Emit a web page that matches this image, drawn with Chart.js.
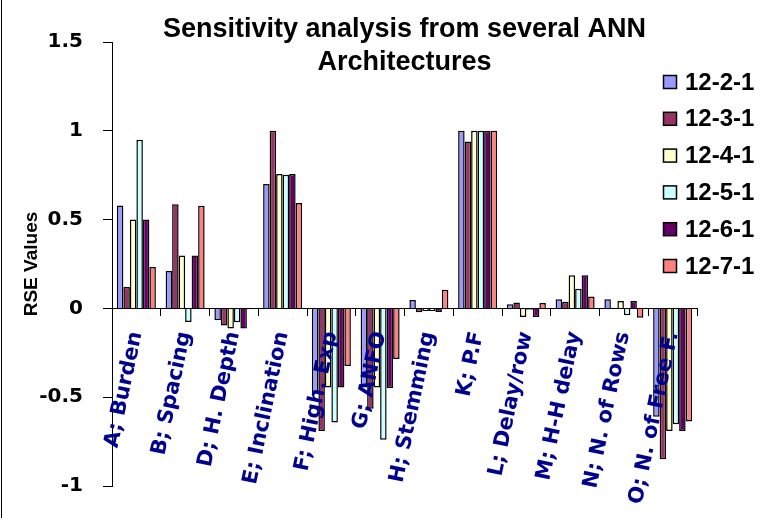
<!DOCTYPE html>
<html>
<head>
<meta charset="utf-8">
<script src="https://cdn.jsdelivr.net/npm/chart.js@4"></script>
<style>
  html, body { margin: 0; padding: 0; background: #fff; }
  #wrap { width: 770px; height: 518px; }
</style>
</head>
<body>
<div id="wrap"><canvas id="chart" width="770" height="518"></canvas></div>
<script>
const categories = ['A; Burden', 'B; Spacing', 'D; H. Depth', 'E; Inclination', 'F; High. Exp',
  'G; ANFO', 'H; Stemming', 'K; P.F', 'L; Delay/row', 'M; H-H delay', 'N; N. of Rows', 'O; N. of Free F.']
const seriesNames = ['12-2-1', '12-3-1', '12-4-1', '12-5-1', '12-6-1', '12-7-1']
const seriesColors = ['#9999FF', '#993366', '#FFFFCC', '#CCFFFF', '#660066', '#FF8080']

const arch1221 = [0.58, 0.21, -0.067, 0.70, -0.476, -0.446, 0.048, 1.0, 0.024, 0.052, 0.052, -0.61]
const arch1231 = [0.12, 0.587, -0.096, 1.0, -0.69, -0.565, -0.022, 0.94, 0.033, 0.037, 0.003, -0.85]
const arch1241 = [0.50, 0.298, -0.113, 0.757, -0.446, -0.446, -0.015, 1.0, -0.048, 0.187, 0.041, -0.69]
const arch1251 = [0.95, -0.076, -0.078, 0.752, -0.643, -0.739, -0.015, 1.0, -0.008, 0.111, -0.039, -0.652]
const arch1261 = [0.50, 0.298, -0.113, 0.757, -0.446, -0.448, -0.02, 1.0, -0.048, 0.187, 0.041, -0.69]
const arch1271 = [0.233, 0.578, -0.005, 0.593, -0.324, -0.285, 0.105, 1.0, 0.03, 0.067, -0.052, -0.637]

const yTicks = [-1, -0.5, 0, 0.5, 1, 1.5]
const titleLines = ['Sensitivity analysis from several ANN', 'Architectures']

const seriesValues = [arch1221, arch1231, arch1241, arch1251, arch1261, arch1271]

// title and legend sit on top of the plot, as in the original
const overlay = {
  id: 'overlay',
  afterDraw(chart) {
    const ctx = chart.ctx
    const area = chart.chartArea
    ctx.save()
    ctx.fillStyle = '#000'
    ctx.textAlign = 'center'
    ctx.textBaseline = 'alphabetic'
    ctx.font = 'bold 27px "Liberation Sans", Arial, sans-serif'
    const cx = (area.left + area.right) / 2
    ctx.fillText(titleLines[0], cx, 37)
    ctx.fillText(titleLines[1], cx, 70)

    ctx.textAlign = 'left'
    ctx.textBaseline = 'middle'
    ctx.font = 'bold 24px "Liberation Sans", Arial, sans-serif'
    chart.data.datasets.forEach((ds, i) => {
      const y = 82 + i * 36.8
      ctx.fillStyle = ds.backgroundColor
      ctx.fillRect(663.5, y - 6.5, 13, 13)
      ctx.strokeStyle = '#000'
      ctx.lineWidth = 1.5
      ctx.strokeRect(663.5, y - 6.5, 13, 13)
      ctx.fillStyle = '#000'
      ctx.fillText(ds.label, 685, y + 1)
    })

    // outer frame, left edge
    ctx.strokeStyle = '#000'
    ctx.lineWidth = 1
    ctx.beginPath()
    ctx.moveTo(1.5, 0)
    ctx.lineTo(1.5, 518)
    ctx.stroke()
    ctx.restore()
  }
}

new Chart(document.getElementById('chart'), {
  type: 'bar',
  data: {
    labels: categories,
    datasets: seriesNames.map((name, i) => ({
      label: name,
      data: seriesValues[i],
      backgroundColor: seriesColors[i],
      borderColor: '#000',
      borderWidth: 1.5,
      categoryPercentage: 0.8,
      barPercentage: 1
    }))
  },
  options: {
    responsive: false,
    animation: false,
    devicePixelRatio: 1,
    layout: { padding: { top: 42, right: 73, bottom: 26, left: 0 } },
    plugins: {
      legend: { display: false },
      title: { display: false },
      tooltip: { enabled: false }
    },
    scales: {
      x: {
        type: 'category',
        position: { y: 0 },
        offset: true,
        afterFit: s => { s.height = 0 },
        grid: { offset: true, drawOnChartArea: false, tickLength: 7, color: '#000', z: 1 },
        border: { color: '#000', width: 1, z: 1 },
        ticks: {
          z: 1,
          autoSkip: false,
          minRotation: 78,
          maxRotation: 78,
          padding: 14,
          color: '#000090',
          font: { family: '"DejaVu Sans", sans-serif', size: 21, weight: 'bold' }
        }
      },
      y: {
        min: -1,
        max: 1.5,
        afterFit: s => { s.width = 112 },
        afterBuildTicks: s => { s.ticks = yTicks.map(v => ({ value: v })) },
        grid: { drawOnChartArea: false, tickLength: 9, color: '#000' },
        border: { color: '#000', width: 1 },
        ticks: {
          padding: 20,
          color: '#000',
          callback: v => String(v),
          font: { family: '"DejaVu Sans", sans-serif', size: 20, weight: 'bold' }
        },
        title: {
          display: true,
          text: 'RSE Values',
          color: '#000',
          padding: { top: 20, bottom: 0 },
          font: { family: '"Liberation Sans", Arial, sans-serif', size: 19, weight: 'bold' }
        }
      }
    }
  },
  plugins: [overlay]
})
</script>
</body>
</html>
